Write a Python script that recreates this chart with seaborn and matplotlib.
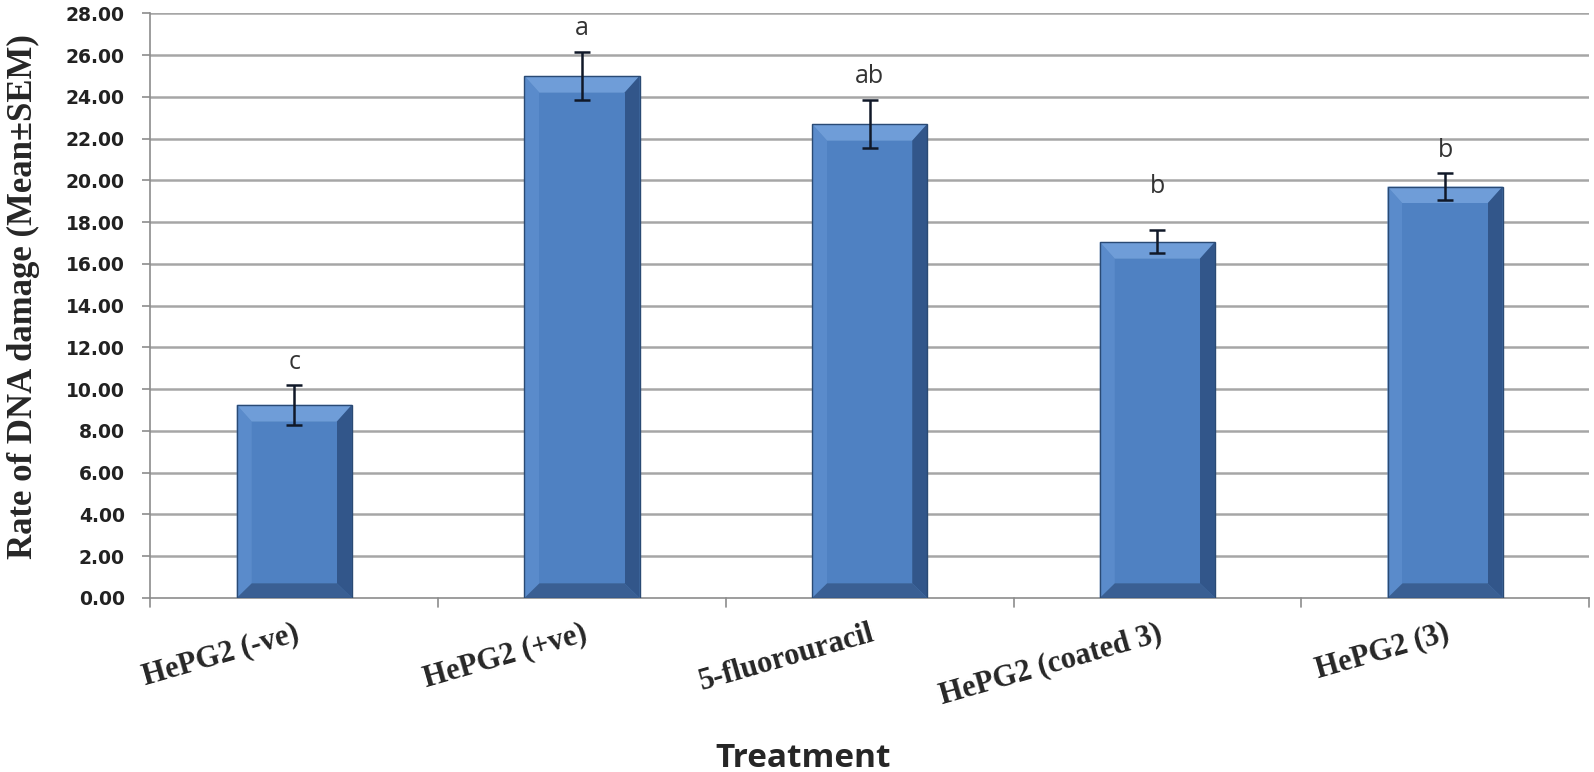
import numpy as np
import pandas as pd
import seaborn as sns
import matplotlib
matplotlib.use('Agg')
import matplotlib.pyplot as plt
from matplotlib.patches import Polygon

# values
treatments = ['HePG2 (-ve)', 'HePG2 (+ve)', '5-fluorouracil', 'HePG2 (coated 3)', 'HePG2 (3)']
means = [9.25, 25.0, 22.7, 17.05, 19.7]
sems = [0.95, 1.15, 1.15, 0.55, 0.65]
letters = ['c', 'a', 'ab', 'b', 'b']
yticks = np.arange(0, 28.01, 2)


def bevel(ax, p):
    # excel style 3d bevel drawn over a seaborn bar
    x0, w, h = p.get_x(), p.get_width(), p.get_height()
    x1 = x0 + w
    bx, by = 0.052, 0.7   # ~15 px in both directions
    tb = 0.8
    ix0, ix1 = x0 + bx, x1 - bx
    iy0, iy1 = by, h - tb
    faces = [
        ([(x0, 0), (x0, h), (ix0, iy1), (ix0, iy0)], '#5a8bcb'),          # left
        ([(x0, h), (x1, h), (ix1, iy1), (ix0, iy1)], '#6f9dd8'),          # top
        ([(x1, h), (x1, 0), (ix1, iy0), (ix1, iy1)], '#32568a'),          # right
        ([(x1, 0), (x0, 0), (ix0, iy0), (ix1, iy0)], '#3a5f93'),          # bottom
        ([(ix0, iy0), (ix0, iy1), (ix1, iy1), (ix1, iy0)], '#4f81c2'),    # face
    ]
    for pts, c in faces:
        ax.add_patch(Polygon(pts, closed=True, facecolor=c, edgecolor='none', zorder=3))
    ax.add_patch(plt.Rectangle((x0, 0), w, h, facecolor='none',
                               edgecolor='#2a4a74', linewidth=1.0, zorder=3.5))


def plot_dna_damage():
    df = pd.DataFrame({'Treatment': treatments, 'Rate': means})

    sns.set_style('white')
    fig = plt.figure(figsize=(15.94, 7.72), dpi=100)
    ax = fig.add_axes([0.0944, 0.2254, 0.9024, 0.7574])

    # grid first so bars sit on top
    for y in yticks[1:]:
        ax.axhline(y, color='#a6a6a6', linewidth=1.8, zorder=0)

    sns.barplot(data=df, x='Treatment', y='Rate', color='#4f81bd', width=0.4,
                saturation=1, linewidth=0, errorbar=None, ax=ax, zorder=2)
    for p in list(ax.patches):
        bevel(ax, p)

    xs = np.arange(len(treatments))
    ax.errorbar(xs, means, yerr=sems, fmt='none', ecolor='#101828',
                elinewidth=1.8, capsize=6, capthick=1.8, zorder=4)

    pads = [1.1, 1.1, 1.1, 2.1, 1.1]
    for x, m, s, lab, pd_ in zip(xs, means, sems, letters, pads):
        ax.text(x, m + s + pd_, lab, ha='center', va='center', fontsize=18,
                family='Open Sans', color='#333333', zorder=5)

    ax.set_xlim(-0.5, len(treatments) - 0.5)
    ax.set_ylim(0, 28)
    ax.set_yticks(yticks)
    ax.set_yticklabels([f'{v:.2f}' for v in yticks], fontsize=13.5,
                       fontweight='bold', color='#222222', family='DejaVu Sans')

    # category labels, slanted, right end under the bar centre
    ax.set_xticks(xs)
    ax.set_xticklabels(treatments, rotation=16, ha='right', rotation_mode='anchor',
                       fontsize=22, fontweight='bold', family='Liberation Serif')
    ax.tick_params(axis='x', length=0, pad=15)
    ax.tick_params(axis='y', length=6, width=1.2, color='#8c8c8c', pad=12.5, left=True)

    # boundary ticks between categories
    for b in np.arange(-0.5, len(treatments), 1.0):
        ax.plot([b, b], [0, -0.45], color='#8c8c8c', linewidth=1.2,
                clip_on=False, zorder=1)

    for side in ['top', 'right']:
        ax.spines[side].set_visible(False)
    ax.spines['left'].set_color('#8c8c8c')
    ax.spines['bottom'].set_color('#8c8c8c')
    ax.spines['left'].set_linewidth(1.2)
    ax.spines['bottom'].set_linewidth(1.2)

    ax.set_ylabel('Rate of DNA damage (Mean±SEM)', fontsize=25, fontweight='bold',
                  family='Liberation Serif', va='center')
    ax.yaxis.set_label_coords(-0.088, 0.515)
    ax.set_xlabel('')
    fig.text(0.504, 0.007, 'Treatment', ha='center', va='baseline', fontsize=24,
             fontweight='bold', family='Open Sans')

    fig.savefig('out.png', dpi=100)


if __name__ == '__main__':
    plot_dna_damage()
